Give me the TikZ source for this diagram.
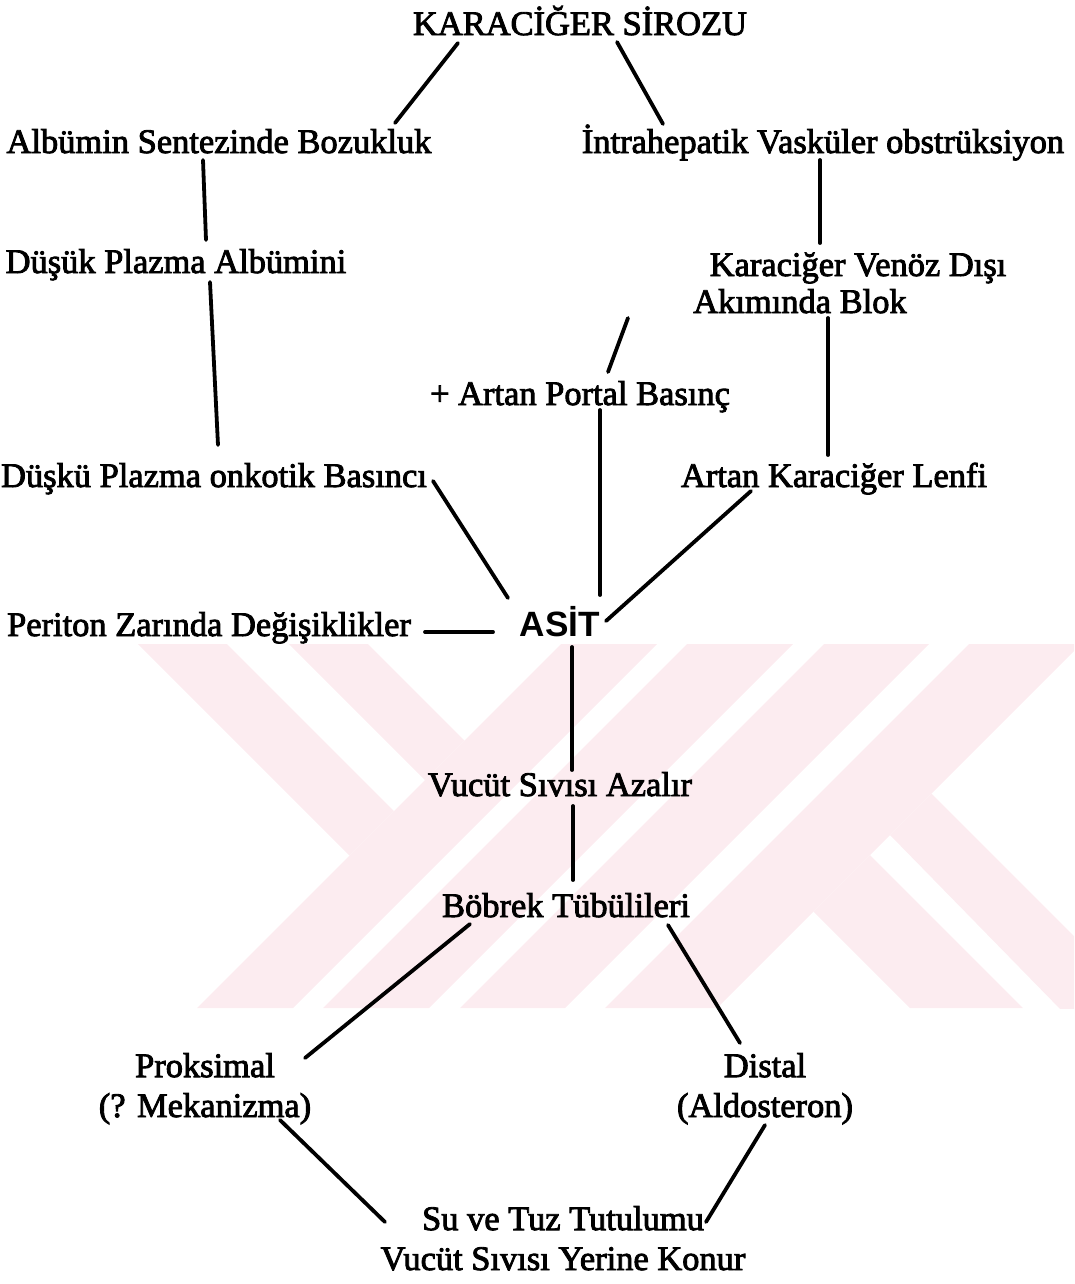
\documentclass[tikz,border=0pt]{standalone}
\usepackage{fontspec}
\setmainfont{Liberation Serif}[FakeBold=2.5]
\newfontfamily\asitfont{Liberation Sans}
\usepackage{tikz}
\definecolor{wm_pink}{RGB}{252, 236, 240}

\begin{document}
\begin{tikzpicture}[
        x=0.025cm, y=-0.025cm,
        every node/.style={font=\fontsize{24.5}{28.4}\selectfont},
        lbl/.style={anchor=base, inner sep=0pt, align=center},
        big/.style={lbl, font=\fontsize{25}{28}\selectfont\asitfont\bfseries},
        link/.style={draw, line width=2.7pt, line cap=round},
        wm/.style={fill=wm_pink, draw=none}
    ]
    \useasboundingbox (0,0) rectangle (1074,1284);

    % watermark
    \begin{scope}
        \clip (135,644) rectangle (1074,1008);
        \fill[wm] (138,644) -- (227,644) -- (394,811) -- (349.5,855.5) -- cycle;
        \fill[wm] (289,644) -- (368,644) -- (464.5,740.5) -- (425,780) -- cycle;
        \foreach \a/\b in {1205/1301, 1331/1437, 1468/1573, 1613/1725}
            \fill[wm] (\a-644,644) -- (\b-644,644) -- (\b-1008,1008) -- (\a-1008,1008) -- cycle;
        \fill[wm] (813.5,911.5) -- (870,855) -- (1023,1008) -- (910,1008) -- cycle;
        \fill[wm] (890,835) -- (931.5,793.5) -- (1150,1012) -- (1063,1012) -- cycle;
    \end{scope}

    \node[lbl] (kc) at (580,35) {KARACİĞER SİROZU};
    \node[lbl] (alb) at (219,153) {Albümin Sentezinde Bozukluk};
    \node[lbl] (intra) at (823,153) {İntrahepatik Vasküler obstrüksiyon};
    \node[lbl] (dpa) at (176,273) {Düşük Plazma Albümini};
    \node[lbl] (kvd) at (858,276) {Karaciğer Venöz Dışı};
    \node[lbl] (blok) at (800,313) {Akımında Blok};
    \node[lbl] (portal) at (580,405) {+ Artan Portal Basınç};
    \node[lbl] (dpo) at (214,487) {Düşkü Plazma onkotik Basıncı};
    \node[lbl] (lenfi) at (834,487) {Artan Karaciğer Lenfi};
    \node[lbl] (periton) at (209,636) {Periton Zarında Değişiklikler};
    \node[big] (asit) at (560,636) {ASİT};
    \node[lbl] (vsa) at (560,796) {Vucüt Sıvısı Azalır};
    \node[lbl] (bt) at (566,917) {Böbrek Tübülileri};
    \node[lbl] (prok) at (205,1117) {Proksimal\\(? Mekanizma)};
    \node[lbl] (dist) at (765,1117) {Distal\\(Aldosteron)};
    \node[lbl] (su) at (563,1270) {Su ve Tuz Tutulumu\\Vucüt Sıvısı Yerine Konur};

    % sol ve sag kollar
    \draw[link] ([shift={(-122,8)}]kc.base) -- ([shift={(176,-30)}]alb.base);
    \draw[link] ([shift={(37,7)}]kc.base) -- ([shift={(-160,-29)}]intra.base);
    \draw[link] ([shift={(-16,7)}]alb.base) -- ([shift={(30,-33)}]dpa.base);
    \draw[link] ([shift={(34,9)}]dpa.base) -- ([shift={(4,-42)}]dpo.base);
    \draw[link] ([shift={(-3,7)}]intra.base) -- ([shift={(-38,-33)}]kvd.base);
    \draw[link] ([shift={(28,-33)}]portal.base) -- ([shift={(-172,5)}]blok.base);
    \draw[link] ([shift={(28,5)}]blok.base) -- ([shift={(-6,-32)}]lenfi.base);
    % ASIT
    \draw[link] ([shift={(20,5)}]portal.base) -- ([shift={(40,-41)}]asit.base);
    \draw[link] ([shift={(-52,-38)}]asit.base) -- ([shift={(219,-6)}]dpo.base);
    \draw[link] ([shift={(46,-15)}]asit.base) -- ([shift={(-83,4)}]lenfi.base);
    \draw[link] ([shift={(216,-4)}]periton.base) -- ([shift={(-67,-4)}]asit.base);
    \draw[link] ([shift={(12,11)}]asit.base) -- ([shift={(12,-26)}]vsa.base);
    \draw[link] ([shift={(13,10)}]vsa.base) -- ([shift={(7,-37)}]bt.base);
    % bobrek
    \draw[link] ([shift={(-96,7)}]bt.base) -- ([shift={(100,-59)}]prok.base);
    \draw[link] ([shift={(102,8)}]bt.base) -- ([shift={(-25,-74)}]dist.base);
    \draw[link] ([shift={(75,3)}]prok.base) -- ([shift={(-178,-48)}]su.base);
    \draw[link] ([shift={(0,8)}]dist.base) -- ([shift={(143,-48)}]su.base);
\end{tikzpicture}
\end{document}
